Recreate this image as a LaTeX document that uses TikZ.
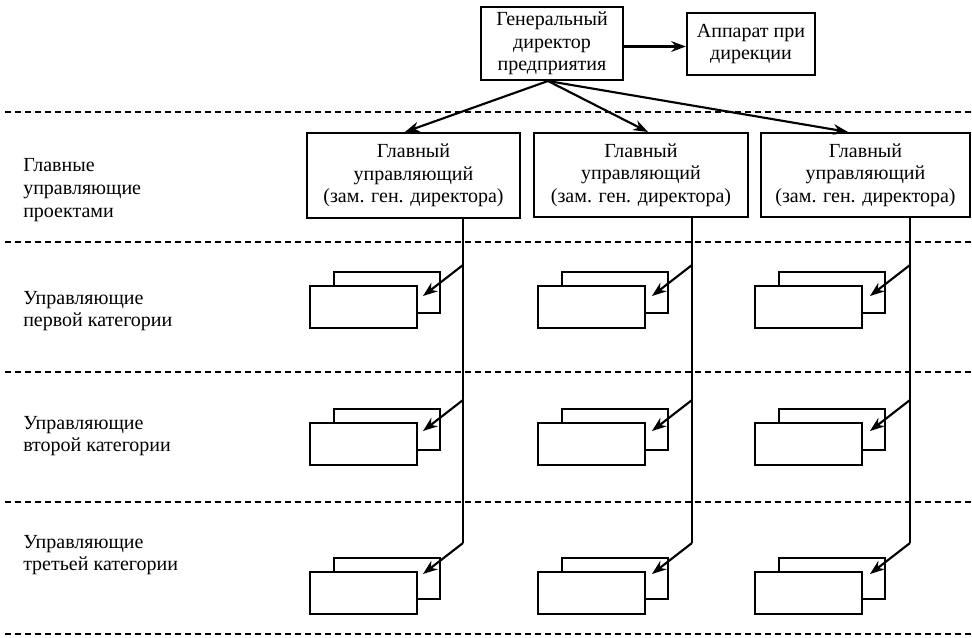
\documentclass[tikz,border=0pt]{standalone}
\usepackage{fontspec}
\setmainfont{Liberation Serif}
\usetikzlibrary{arrows.meta,calc}
\begin{document}
\begin{tikzpicture}[x=0.75pt,y=-0.75pt,
  txt/.style={font=\fontsize{15}{17}\selectfont},
  box/.style={draw,line width=1.6pt,align=center,inner sep=0pt,txt},
  sub/.style={draw,line width=1.6pt,fill=white,inner sep=0pt,anchor=north west,minimum width=80.25pt,minimum height=31.5pt},
  subback/.style={sub,minimum width=79.5pt,minimum height=30.75pt},
  lvl/.style={align=left,anchor=west,inner sep=0pt,txt},
  link/.style={line width=1.6pt},
  arr/.style={line width=1.6pt,-{Stealth[length=11pt,width=8pt]}},
  sep/.style={line width=1.1pt,dash pattern=on 4.5pt off 3pt}
]
\useasboundingbox (0,0) rectangle (972,637);

% separators
\foreach \yy in {112,242,372,502,634} \draw[sep] (5,\yy) -- (972,\yy);

% top boxes
\node[box,minimum width=106.5pt,minimum height=54.75pt] (gd) at (552,43.5) {Генеральный\\директор\\предприятия};
\node[box,minimum width=96pt,minimum height=46.5pt] (app) at (751,44) {Аппарат при\\дирекции};
\draw[arr] ($(gd.east)+(0,3)$) -- ($(gd.east -| app.west)+(0,3)$);

% main managers
\node[box,minimum width=160pt,minimum height=63.75pt] (m1) at (413.5,175.5) {Главный\\управляющий\\(зам. ген. директора)};
\node[box,minimum width=160.5pt,minimum height=63pt] (m2) at (641,175) {Главный\\управляющий\\(зам. ген. директора)};
\node[box,minimum width=156.75pt,minimum height=63pt] (m3) at (865.5,175) {Главный\\управляющий\\(зам. ген. директора)};

\coordinate (gdo) at (548,81);
\draw[arr] (gdo) -- ($(m1.north)+(-8.5,0)$);
\draw[arr] (gdo) -- ($(m2.north)+(7,0)$);
\draw[arr] (gdo) -- ($(m3.north)+(-17.5,0)$);

% level labels
\node[lvl] (l0) at (23,190) {Главные\\управляющие\\проектами};
\node[lvl] (l1) at (23,311) {Управляющие\\первой категории};
\node[lvl] (l2) at (23,436) {Управляющие\\второй категории};
\node[lvl] (l3) at (23,555) {Управляющие\\третьей категории};

% subordinate stacks
\foreach \c/\vx/\fl in {1/463/309, 2/692/537, 3/910/754} {
  \foreach \l/\ft/\ay in {1/285/265, 2/422/400, 3/571/543} {
    \node[subback] (b\c\l) at (\fl+24,\ft-14) {};
    \node[sub] (f\c\l) at (\fl,\ft) {};
    \coordinate (s\c\l) at (\vx,\ay);
    \coordinate (t\c\l) at (\vx-40,\ay+31);
  }
  \draw[link] (m\c.south -| s\c1) -- (s\c3);
  \draw[arr] (s\c1) -- (t\c1);
  \draw[arr] (s\c2) -- (t\c2);
  \draw[arr] (s\c3) -- (t\c3);
}
\end{tikzpicture}
\end{document}
